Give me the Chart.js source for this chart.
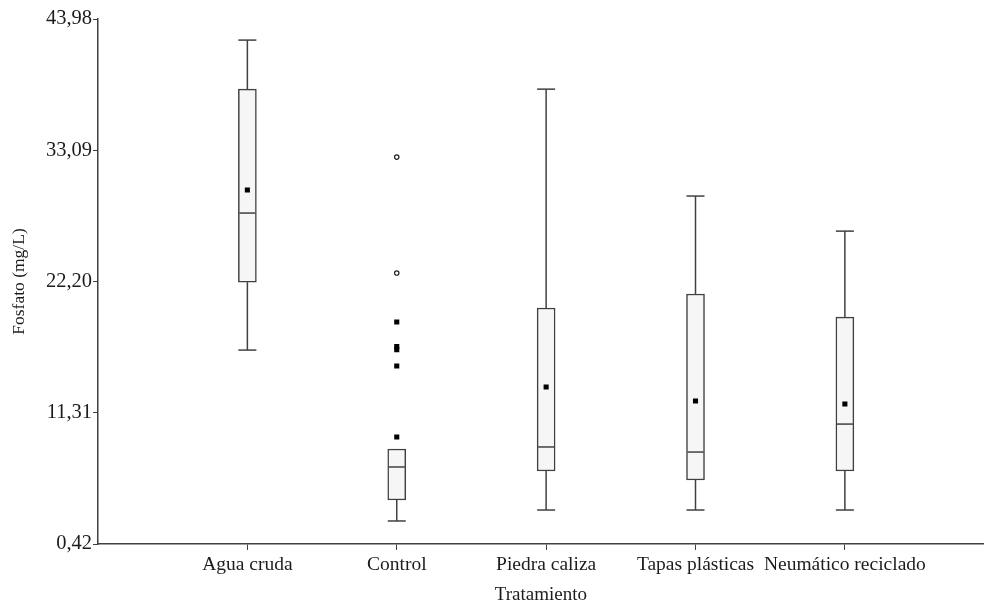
<!DOCTYPE html>
<html>
<head>
<meta charset="utf-8">
<script src="https://cdn.jsdelivr.net/npm/chart.js@4/dist/chart.umd.min.js"></script>
<style>
  html, body { margin: 0; padding: 0; background: #fff; }
  #wrap { width: 989px; height: 605px; }
</style>
</head>
<body>
<div id="wrap"><canvas id="boxChart" width="989" height="605"></canvas></div>
<script>
// datos
const categories = ['Agua cruda', 'Control', 'Piedra caliza', 'Tapas plásticas', 'Neumático reciclado'];
const whiskerLow = [16.51, 2.33, 3.24, 3.24, 3.24];
const q1 = [22.15, 4.07, 6.48, 5.73, 6.48];
const medians = [27.88, 6.81, 8.47, 8.05, 10.37];
const q3 = [38.16, 8.30, 20.00, 21.16, 19.25];
const whiskerHigh = [42.23, 8.30, 38.16, 29.29, 26.38];
const means = [29.79, 9.30, 13.44, 12.28, 12.03];
const controlOutliers = [18.84, 16.80, 16.55, 15.19];
const controlExtremes = [32.52, 22.90];
const yTicks = [0.42, 11.31, 22.20, 33.09, 43.98];
const yTickLabels = ['0,42', '11,31', '22,20', '33,09', '43,98'];

const lineColor = '#404040';
const textColor = '#1c1c1c';
const boxWidth = 18;

const boxPlugin = {
    id: 'boxParts',
    beforeDatasetsDraw(chart) {
        const { ctx, scales: { x, y } } = chart;
        ctx.save();
        ctx.strokeStyle = lineColor;
        ctx.lineWidth = 1.5;
        categories.forEach((c, i) => {
            const px = x.getPixelForValue(i + 1);
            const segs = [[whiskerLow[i], q1[i]], [q3[i], whiskerHigh[i]]];
            segs.forEach(([a, b]) => {
                if (b - a <= 0) return;
                ctx.beginPath();
                ctx.moveTo(px, y.getPixelForValue(a));
                ctx.lineTo(px, y.getPixelForValue(b));
                ctx.stroke();
            });
            [whiskerLow[i], whiskerHigh[i]].forEach((v, k) => {
                if (k === 1 && v <= q3[i]) return;
                const py = y.getPixelForValue(v);
                ctx.beginPath();
                ctx.moveTo(px - boxWidth / 2, py);
                ctx.lineTo(px + boxWidth / 2, py);
                ctx.stroke();
            });
        });
        ctx.restore();
    },
    afterDatasetsDraw(chart) {
        const { ctx, scales: { x, y } } = chart;
        ctx.save();
        ctx.strokeStyle = lineColor;
        ctx.lineWidth = 1.5;
        medians.forEach((m, i) => {
            const px = x.getPixelForValue(i + 1);
            const py = y.getPixelForValue(m);
            ctx.beginPath();
            ctx.moveTo(px - boxWidth / 2 + 1, py);
            ctx.lineTo(px + boxWidth / 2 - 1, py);
            ctx.stroke();
        });
        ctx.restore();
    }
};

new Chart(document.getElementById('boxChart'), {
    type: 'bar',
    data: {
        datasets: [
            {
                type: 'scatter',
                order: 1,
                data: means.map((m, i) => ({ x: i + 1, y: m })),
                pointStyle: 'rect',
                pointRadius: 3.6,
                pointBorderWidth: 0,
                backgroundColor: '#000'
            },
            {
                type: 'scatter',
                order: 1,
                data: controlOutliers.map(v => ({ x: 2, y: v })),
                pointStyle: 'rect',
                pointRadius: 3.6,
                pointBorderWidth: 0,
                backgroundColor: '#000'
            },
            {
                type: 'scatter',
                order: 1,
                data: controlExtremes.map(v => ({ x: 2, y: v })),
                pointStyle: 'circle',
                pointRadius: 2.2,
                pointBorderWidth: 1.2,
                borderColor: '#222',
                backgroundColor: '#fff'
            },
            {
                type: 'bar',
                order: 2,
                data: q1.map((v, i) => ({ x: i + 1, y: [v, q3[i]] })),
                backgroundColor: '#f6f6f6',
                borderColor: lineColor,
                borderWidth: 1.5,
                borderSkipped: false,
                barThickness: boxWidth
            }
        ]
    },
    options: {
        responsive: false,
        animation: false,
        events: [],
        layout: { padding: { top: 19, right: 0, bottom: 0, left: 0 } },
        plugins: {
            legend: { display: false },
            tooltip: { enabled: false }
        },
        scales: {
            x: {
                type: 'linear',
                min: 0,
                max: 5.93,
                offset: false,
                afterBuildTicks: scale => {
                    scale.ticks = categories.map((c, i) => ({ value: i + 1 }));
                },
                afterFit: scale => {
                    scale.height = 61;
                    scale.paddingLeft = 0;
                    scale.paddingRight = 0;
                },
                grid: { drawOnChartArea: false, offset: false, tickLength: 6, color: lineColor, lineWidth: 1 },
                border: { color: lineColor, width: 1.5 },
                ticks: {
                    autoSkip: false,
                    maxRotation: 0,
                    padding: 3,
                    color: textColor,
                    font: { family: 'Liberation Serif', size: 19.5 },
                    callback: (v, i) => categories[i]
                },
                title: {
                    display: true,
                    text: 'Tratamiento',
                    color: textColor,
                    padding: 0,
                    font: { family: 'Liberation Serif', size: 19, lineHeight: 1 }
                }
            },
            y: {
                min: 0.42,
                max: 43.98,
                afterBuildTicks: scale => {
                    scale.ticks = yTicks.map(v => ({ value: v }));
                },
                afterFit: scale => {
                    scale.width = 98;
                    scale.paddingTop = 0;
                    scale.paddingBottom = 0;
                },
                grid: { drawOnChartArea: false, tickLength: 5, color: lineColor, lineWidth: 1 },
                border: { color: lineColor, width: 1.5 },
                ticks: {
                    padding: 1,
                    color: textColor,
                    font: { family: 'Liberation Serif', size: 20.5 },
                    callback: (v, i) => yTickLabels[i]
                },
                title: {
                    display: true,
                    text: 'Fosfato (mg/L)',
                    color: textColor,
                    padding: { top: 11, bottom: 0 },
                    font: { family: 'Liberation Serif', size: 17.5, lineHeight: 1 }
                }
            }
        }
    },
    plugins: [boxPlugin]
});
</script>
</body>
</html>
